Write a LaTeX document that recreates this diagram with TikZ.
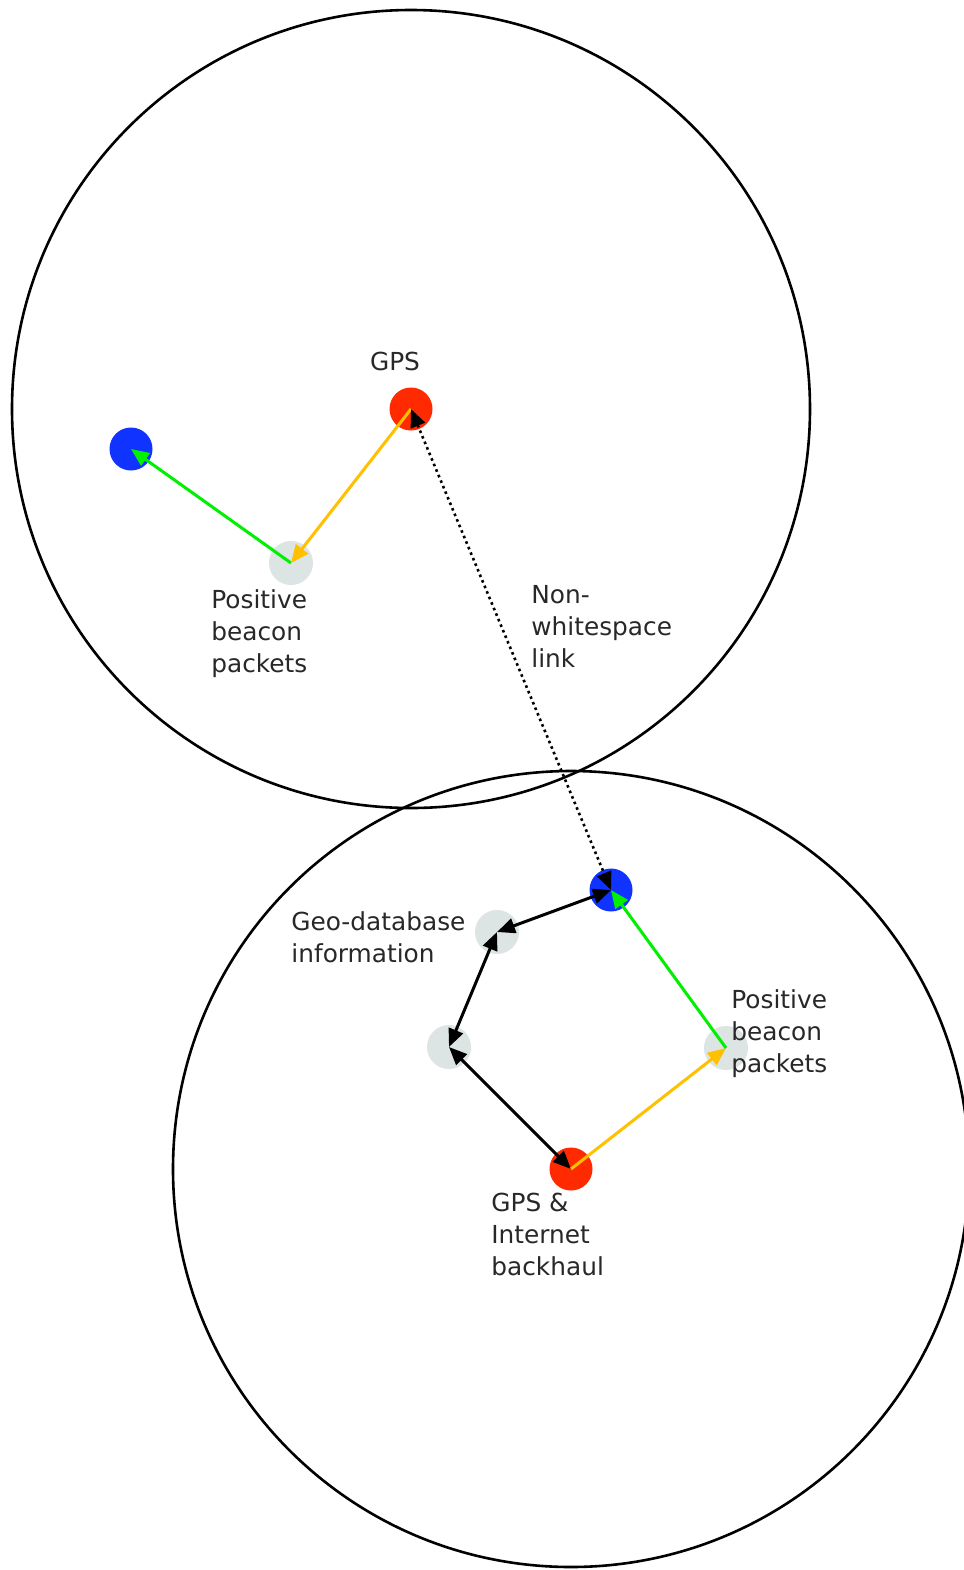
\documentclass[tikz,border=0pt]{standalone}
\usepackage{fontspec}
\setmainfont{DejaVu Sans}
\usetikzlibrary{arrows.meta}
\definecolor{nblue}{RGB}{17,51,255}
\definecolor{nred}{RGB}{255,42,0}
\definecolor{ngrey}{RGB}{220,228,228}
\definecolor{ngreen}{RGB}{0,240,0}
\definecolor{nyellow}{RGB}{255,192,0}
\definecolor{ntext}{RGB}{40,40,40}
\tikzset{
  dotnode/.style={circle, inner sep=0pt, minimum size=21.5pt, fill=#1},
  gdot/.style={circle, inner sep=0pt, minimum size=22pt, fill=ngrey},
  lbl/.style={inner sep=0pt, align=left, anchor=west, text=ntext, font=\fontsize{12.4}{16}\selectfont},
  rangecirc/.style={line width=1.3pt, draw=black},
  conn/.style={line width=1.5pt, -{Triangle[length=9pt,width=7.5pt]}},
  biconn/.style={line width=1.5pt, {Triangle[length=9pt,width=7.5pt]}-{Triangle[length=9pt,width=7.5pt]}},
}
\begin{document}
\begin{tikzpicture}[x=0.5pt,y=-0.5pt]
\fill[white] (0,0) rectangle (964,1570);
\useasboundingbox (0,0) rectangle (964,1570);
\clip (0,0) rectangle (964,1570);

% nodes
\node[dotnode=nred]  (r1) at (411,409) {};
\node[dotnode=nblue] (b1) at (131,449) {};
\node[gdot]      (g1) at (291,563) {};
\node[dotnode=nblue] (b2) at (611,890) {};
\node[gdot]      (g2) at (497,932) {};
\node[gdot]      (g3) at (449,1047) {};
\node[dotnode=nred]  (r2) at (571,1169) {};
\node[gdot]      (g4) at (726,1048) {};

% range circles
\draw[rangecirc] (r1.center) circle[radius=199.5pt];
\draw[rangecirc] (r2.center) circle[radius=199pt];

% connectors
\draw[conn, ngreen]  (g1.center) -- (b1.center);
\draw[conn, nyellow] (r1.center) -- (g1.center);
\draw[biconn, black, line width=1.3pt, dash pattern=on 1.3pt off 1.7pt] (r1.center) -- (b2.center);
\draw[biconn, black] (b2.center) -- (g2.center);
\draw[biconn, black] (g2.center) -- (g3.center);
\draw[biconn, black] (g3.center) -- (r2.center);
\draw[conn, nyellow] (r2.center) -- (g4.center);
\draw[conn, ngreen]  (g4.center) -- (b2.center);

% labels
\node[lbl, anchor=center] (tgps) at (395,361) {GPS};
\node[lbl] (tpos1) at (211,634) {Positive\\beacon\\packets};
\node[lbl] (tnon) at (531,626) {Non-\\whitespace\\link};
\node[lbl] (tgeo) at (291,937) {Geo-database\\information};
\node[lbl] (tpos2) at (731,1034) {Positive\\beacon\\packets};
\node[lbl] (tgps2) at (491,1234) {GPS \&\\Internet\\backhaul};
\end{tikzpicture}
\end{document}
